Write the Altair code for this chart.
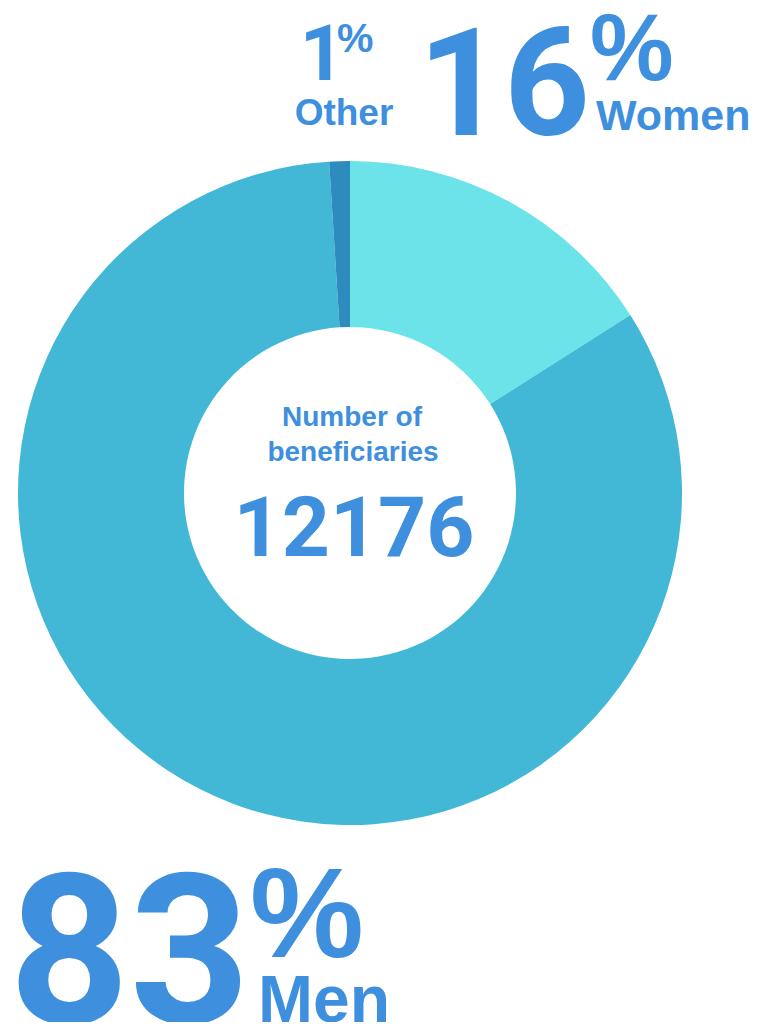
import altair as alt
import pandas as pd

categories = ["Women", "Men", "Other"]
shares = [16, 83, 1]
colors = ["#6be3e9", "#42b8d6", "#2d8bbd"]
total_label = ["Number of", "beneficiaries"]
total_value = 12176

TEXT_COLOR = "#3e8fde"
NUM_FONT = "Roboto"
LBL_FONT = "Liberation Sans"
OX, OY = 8, 8  # page margin offset

df = pd.DataFrame({"category": categories, "share": shares, "order": list(range(len(categories)))})

donut = alt.Chart(df).mark_arc(outerRadius=332, innerRadius=166, stroke=None).encode(
    theta=alt.Theta("share:Q", stack=True),
    order=alt.Order("order:Q"),
    color=alt.Color("category:N", scale=alt.Scale(domain=categories, range=colors), legend=None),
    x=alt.value(350 - OX),
    y=alt.value(493 - OY),
)

one = pd.DataFrame({"k": [0]})


def txt(text, x, y, size, font, align="left", baseline="alphabetic"):
    return alt.Chart(one).mark_text(
        font=font, fontWeight="bold", fontSize=size, color=TEXT_COLOR,
        align=align, baseline=baseline,
    ).encode(x=alt.value(x - OX), y=alt.value(y - OY), text=alt.value(text))


share = dict(zip(categories, shares))

layers = [
    donut,
    # Other
    txt(f"{share['Other']}", 322, 80, 78, NUM_FONT, align="center"),
    txt("%", 337, 52, 41, LBL_FONT),
    txt("Other", 344, 125, 37, LBL_FONT, align="center"),
    # Women
    txt(f"{share['Women']}", 590, 135, 150, NUM_FONT, align="right"),
    txt("%", 590, 80, 94, LBL_FONT),
    txt("Women", 596, 130, 43, LBL_FONT),
    # Men
    txt(f"{share['Men']}", 250, 1023, 210, NUM_FONT, align="right"),
    txt("%", 250, 957, 128, LBL_FONT),
    txt("Men", 258, 1022, 66, LBL_FONT),
    # Center
    txt(total_label[0], 352, 426, 28, LBL_FONT, align="center"),
    txt(total_label[1], 353, 461, 28, LBL_FONT, align="center"),
    txt(f"{total_value}", 354, 556, 84, NUM_FONT, align="center"),
]

chart = alt.layer(*layers).properties(
    width=746, height=1014, padding=0, autosize="none"
).configure_view(stroke=None)

chart.save("out.html", embed_options={"renderer": "svg", "actions": False})
